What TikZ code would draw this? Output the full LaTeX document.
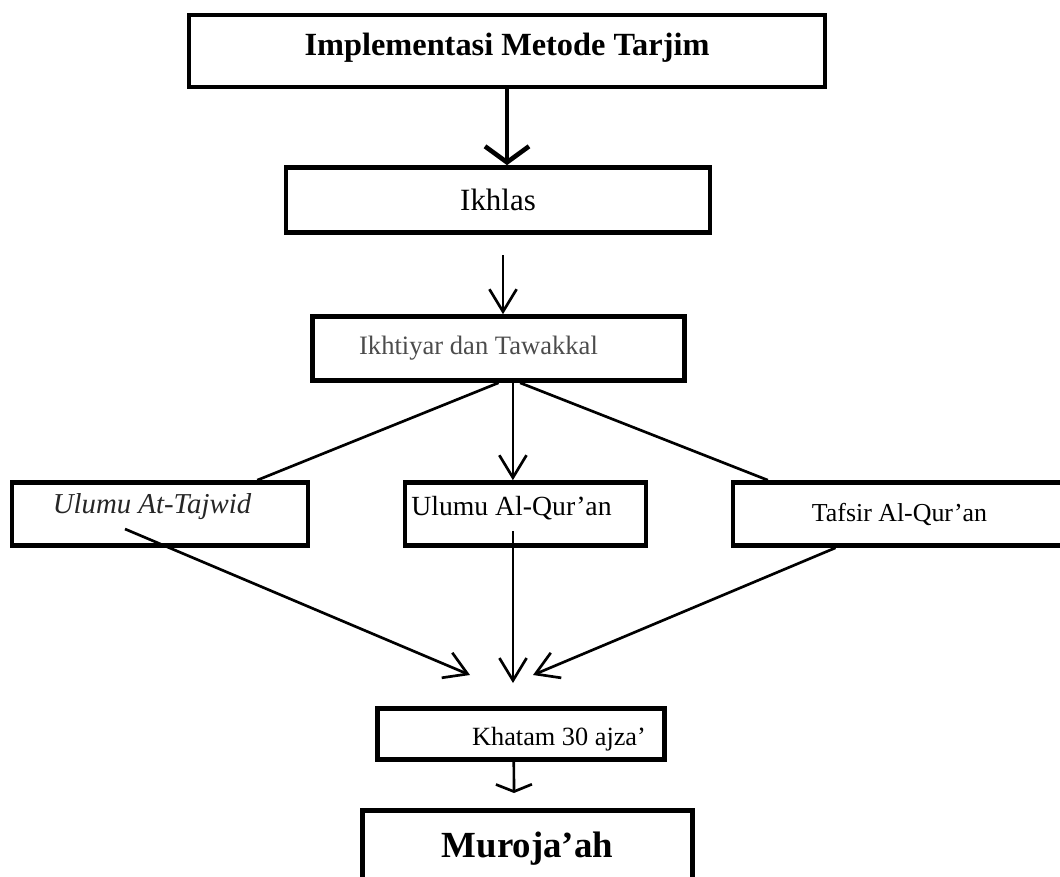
\documentclass[tikz,border=0pt]{standalone}
\usepackage{fontspec}
\setmainfont{Liberation Serif}
\usetikzlibrary{arrows.meta}

\begin{document}
\begin{tikzpicture}[x=0.025cm, y=-0.025cm,
    box/.style={draw, rectangle, line width=3.3pt, inner sep=0pt, align=center},
    link/.style={line width=1.9pt},
    arr/.style={line width=1.9pt, -{Straight Barb[length=0.56cm,width=0.68cm]}},
    bigarr/.style={line width=3.3pt, -{Straight Barb[length=0.4cm,width=1.1cm]}},
    flatarr/.style={line width=1.9pt, -{Straight Barb[length=0.18cm,width=0.9cm]}}]
    \clip (0,0) rectangle (1060,876);

    \node[box, minimum width=15.9cm, minimum height=1.8cm, text depth=0.35cm, font=\fontsize{23pt}{27pt}\selectfont\bfseries] (tarjim) at (507,51) {Implementasi Metode Tarjim};
    \node[box, minimum width=10.6cm, minimum height=1.625cm, font=\fontsize{22pt}{26pt}\selectfont] (ikhlas) at (498,200) {Ikhlas};
    \node[box, minimum width=9.3cm, minimum height=1.6cm, text=black!70, font=\fontsize{18.9pt}{22pt}\selectfont] (ikhtiyar) at (498.5,348.5) {Ikhtiyar dan Tawakkal\hspace*{1cm}};

    \node[box, minimum width=7.4cm, minimum height=1.575cm, text depth=0.54cm, text=black!85, font=\fontsize{20.5pt}{24pt}\selectfont\itshape] (tajwid) at (160,514) {Ulumu At-Tajwid\hspace*{0.4cm}};
    \node[box, minimum width=6.025cm, minimum height=1.575cm, text depth=0.42cm, font=\fontsize{19.7pt}{23pt}\selectfont] (quran) at (525.5,514) {Ulumu Al-Qur'an\hspace*{0.7cm}};
    \node[box, minimum width=8.325cm, minimum height=1.575cm, font=\fontsize{18.4pt}{22pt}\selectfont] (tafsir) at (899.5,514) {Tafsir Al-Qur'an};

    \node[box, minimum width=7.175cm, minimum height=1.275cm, text height=0.7cm, font=\fontsize{18.7pt}{22pt}\selectfont] (khatam) at (521,734) {\hspace*{1.9cm}Khatam 30 ajza'};
    \node[box, minimum width=8.25cm, minimum height=1.9cm, font=\fontsize{26.2pt}{30pt}\selectfont\bfseries] (muroja) at (527.5,848.5) {Muroja'ah};

    \coordinate (gap) at (503,255);
    \coordinate (tajin) at (125,529);
    \coordinate (quranin) at (513,531);
    \coordinate (inL) at (470,675);
    \coordinate (inM) at (513,683);
    \coordinate (inR) at (533,675);
    \coordinate (muroin) at (514,793);

    \draw[bigarr] (tarjim.south) -- (tarjim.south |- ikhlas.north);
    \draw[arr] (gap) -- (gap |- ikhtiyar.north);

    \draw[link] (ikhtiyar.south) -- ([xshift=2.43cm]tajwid.north);
    \draw[arr] ([xshift=0.36cm]ikhtiyar.south) -- ([xshift=0.36cm]ikhtiyar.south |- quran.north);
    \draw[link] ([xshift=0.54cm]ikhtiyar.south) -- ([xshift=-3.29cm]tafsir.north);

    \draw[arr] (tajin) -- (inL);
    \draw[arr] (quranin) -- (inM);
    \draw[arr] ([xshift=-1.6cm]tafsir.south) -- (inR);

    \draw[flatarr] ([xshift=-0.18cm]khatam.south) -- (muroin);
\end{tikzpicture}
\end{document}
